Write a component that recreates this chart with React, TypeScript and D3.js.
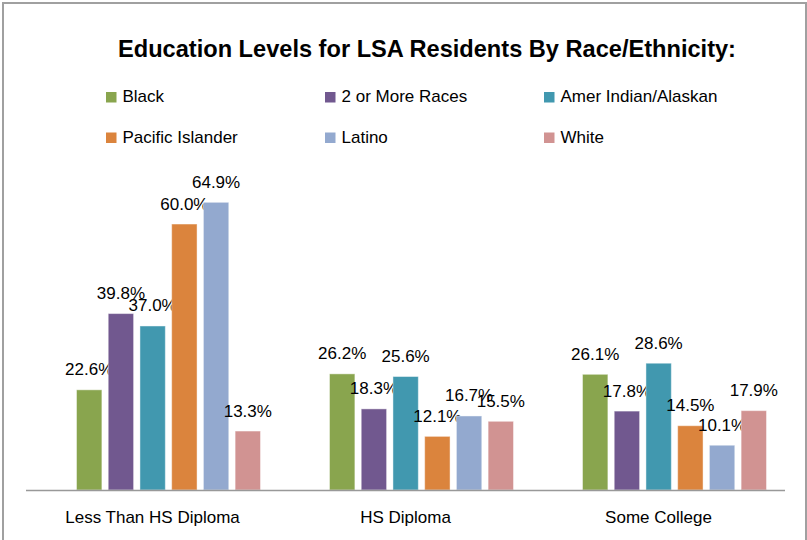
import React from "react";
import * as d3 from "d3";

const categories = ["Less Than HS Diploma", "HS Diploma", "Some College"];
const seriesNames = ["Black", "2 or More Races", "Amer Indian/Alaskan", "Pacific Islander", "Latino", "White"];
const seriesColors = ["#89A54E", "#71588F", "#4198AF", "#DB843D", "#93A9CF", "#D19392"];
const black = [22.6, 26.2, 26.1];
const twoOrMore = [39.8, 18.3, 17.8];
const amerIndian = [37.0, 25.6, 28.6];
const pacific = [60.0, 12.1, 14.5];
const latino = [64.9, 16.7, 10.1];
const white = [13.3, 15.5, 17.9];
const seriesValues = [black, twoOrMore, amerIndian, pacific, latino, white];

const W = 807;
const H = 540;
const FONT = "'Liberation Sans Narrow', 'Liberation Sans', Arial, sans-serif";

export default function App() {
  const x0 = d3.scaleBand<string>().domain(categories).range([26, 785]).padding(0);
  const x1 = d3.scaleBand<string>().domain(seriesNames).range([50.5, 234.5]).paddingInner(0.2).paddingOuter(0);
  const y = d3.scaleLinear().domain([0, 70]).range([490, 179.7]);
  const fmt = (v: number) => v.toFixed(1) + "%";

  const legendCols = [106, 325, 544];
  const legendRows = [102, 142.5];

  return (
    <svg width={W} height={H} style={{ position: "absolute", left: 0, top: 0, background: "#fff" }}>
      <rect x={0} y={0} width={W} height={H} fill="#fff" />
      <path d={`M3,${H} V3 H806 V${H}`} fill="none" stroke="#a0a0a0" strokeWidth={2} />
      <text x={427} y={57} textAnchor="middle" fontFamily={FONT} fontWeight="bold" fontSize={23.6} fill="#000">
        Education Levels for LSA Residents By Race/Ethnicity:
      </text>
      {seriesNames.map((s, i) => {
        const cx = legendCols[i % 3];
        const cy = legendRows[Math.floor(i / 3)];
        return (
          <g key={s}>
            <rect x={cx} y={cy - 10} width={10.5} height={10.5} fill={seriesColors[i]} />
            <text x={cx + 16.5} y={cy} fontFamily={FONT} fontSize={17} fill="#000">{s}</text>
          </g>
        );
      })}
      {categories.map((c, ci) => (
        <g key={c} transform={`translate(${x0(c)},0)`}>
          {seriesNames.map((s, si) => {
            const v = seriesValues[si][ci];
            const bx = x1(s)!;
            const bw = x1.bandwidth();
            return (
              <g key={s}>
                <rect x={bx} y={y(v)} width={bw} height={y(0) - y(v)} fill={seriesColors[si]} stroke="#ffffff" strokeOpacity={0.45} strokeWidth={1} />
                <text x={bx + bw / 2} y={y(v) - 14.5} textAnchor="middle" fontFamily={FONT} fontSize={17} fill="#000">
                  {fmt(v)}
                </text>
              </g>
            );
          })}
          <text x={x0.bandwidth() / 2} y={522.5} textAnchor="middle" fontFamily={FONT} fontSize={17} fill="#000">{c}</text>
        </g>
      ))}
      <line x1={26} x2={785} y1={y(0) + 0.5} y2={y(0) + 0.5} stroke="#999" strokeWidth={1.5} />
    </svg>
  );
}
